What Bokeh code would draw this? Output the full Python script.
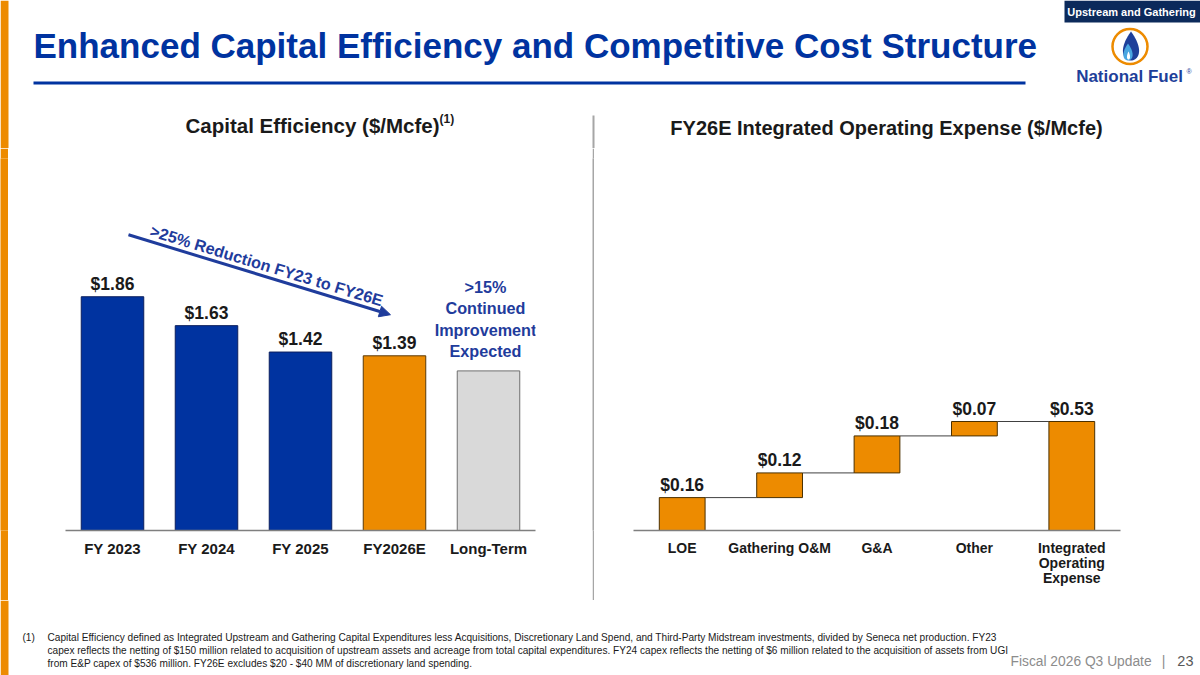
import math
from bokeh.plotting import figure
from bokeh.models import (Range1d, FactorRange, ColumnDataSource, Arrow, NormalHead, Label,
                          GlobalInlineStyleSheet)
from bokeh.layouts import column, row
from bokeh.embed import file_html
from bokeh.resources import INLINE
from bokeh.core.properties import value

FONT = "Liberation Sans"
BLUE = "#0033A0"
TXT_BLUE = "#1F3C9C"
ORANGE = "#ED8B00"
GRAY_BAR = "#D9D9D9"
DARK = "#1A1A1A"

# ---------------- data ----------------
ce_categories = ["FY 2023", "FY 2024", "FY 2025", "FY2026E", "Long-Term"]
ce_values = [1.86, 1.63, 1.42, 1.39, 1.27]
ce_labels = ["$1.86", "$1.63", "$1.42", "$1.39", ""]
ce_colors = [BLUE, BLUE, BLUE, ORANGE, GRAY_BAR]
ce_outline = ["#0B1F5E", "#0B1F5E", "#0B1F5E", "#5A3A08", "#6E6E6E"]

opex_categories = ["LOE", "Gathering O&M", "G&A", "Other", "Integrated\nOperating\nExpense"]
opex_values = [0.16, 0.12, 0.18, 0.07, 0.53]
opex_labels = ["$0.16", "$0.12", "$0.18", "$0.07", "$0.53"]

# waterfall bottoms / tops (last bar is the total)
opex_bottom, opex_top = [], []
run = 0.0
for i, v in enumerate(opex_values):
    if i == len(opex_values) - 1:
        opex_bottom.append(0.0)
        opex_top.append(v)
    else:
        opex_bottom.append(run)
        run += v
        opex_top.append(run)

W = 1200
HDR_H, CH_H, FTR_H = 148, 452, 75


def blank(width, height, **kw):
    f = figure(width=width, height=height, x_range=Range1d(0, width), y_range=Range1d(height, 0),
               x_axis_type=None, y_axis_type=None, toolbar_location=None,
               output_backend="svg", min_border=0, outline_line_color=None, **kw)
    f.xgrid.visible = False
    f.ygrid.visible = False
    return f


# ---------------- header ----------------
hdr = blank(W, HDR_H)
hdr.quad(left=[0], right=[8], top=[0], bottom=[HDR_H], fill_color=ORANGE, line_color=None)
hdr.text(x=[33], y=[45], text=["Enhanced Capital Efficiency and Competitive Cost Structure"],
         text_font=value(FONT), text_font_style="bold", text_font_size="35px",
         text_color=BLUE, text_align="left", text_baseline="middle")
hdr.segment(x0=[33], y0=[82.5], x1=[1025], y1=[82.5], line_color=BLUE, line_width=3)

# tag box
hdr.quad(left=[1064], right=[W], top=[0], bottom=[22], fill_color="#0C2A5B", line_color=None)
hdr.text(x=[1131], y=[11], text=["Upstream and Gathering"], text_font=value(FONT),
         text_font_style="bold", text_font_size="11px", text_color="white",
         text_align="center", text_baseline="middle")

# logo
cx, cy = 1129.5, 46
hdr.circle(x=[cx], y=[cy], radius=17.5, fill_color="white", line_color=ORANGE, line_width=2.5)


def teardrop(xc, ytip, w, h, n=60):
    xs, ys = [], []
    for k in range(n + 1):
        t = 2 * math.pi * k / n
        xs.append(xc + (w / 2) * math.sin(t) * math.sin(t / 2))
        ys.append(ytip + h * math.sin(t / 2) ** 2)
    return xs, ys


fx, fy = teardrop(cx + 1, 31, 21, 29)
hdr.patch(fx, fy, fill_color="#1E3F9A", line_color=None)
fx2, fy2 = teardrop(cx - 2, 43, 12, 17)
hdr.patch(fx2, fy2, fill_color="#49A6E0", line_color=None)
fx3, fy3 = teardrop(cx - 1.5, 51, 4, 8)
hdr.patch(fx3, fy3, fill_color="white", line_color=None)

hdr.text(x=[1129], y=[76], text=["National Fuel"], text_font=value(FONT),
         text_font_style="bold", text_font_size="17px", text_color="#1E3F9A",
         text_align="center", text_baseline="middle")
hdr.text(x=[1186], y=[71], text=["®"], text_font=value(FONT),
         text_font_size="7px", text_color="#1E3F9A", text_align="left", text_baseline="middle")

# chart subtitles
hdr.text(x=[185], y=[125], text=["Capital Efficiency ($/Mcfe)"], text_font=value(FONT),
         text_font_style="bold", text_font_size="20.5px", text_color=DARK,
         text_align="left", text_baseline="middle")
hdr.text(x=[439], y=[118], text=["(1)"], text_font=value(FONT),
         text_font_style="bold", text_font_size="12px", text_color=DARK,
         text_align="left", text_baseline="middle")
hdr.text(x=[886], y=[127], text=["FY26E Integrated Operating Expense ($/Mcfe)"], text_font=value(FONT),
         text_font_style="bold", text_font_size="20px", text_color=DARK,
         text_align="center", text_baseline="middle")
hdr.segment(x0=[593], y0=[115], x1=[593], y1=[HDR_H], line_color="#A6A6A6", line_width=2)

# ---------------- orange strip beside the charts ----------------
strip = figure(width=8, height=CH_H, x_axis_type=None, y_axis_type=None, toolbar_location=None,
               output_backend="svg", min_border=0, outline_line_color=None,
               background_fill_color=ORANGE, border_fill_color=ORANGE)
strip.xgrid.visible = False
strip.ygrid.visible = False


def style_axis(p, size):
    p.yaxis.visible = False
    p.xgrid.visible = False
    p.ygrid.visible = False
    p.xaxis.axis_line_color = "#7F7F7F"
    p.xaxis.axis_line_width = 1.5
    p.xaxis.major_tick_line_color = None
    p.xaxis.minor_tick_line_color = None
    p.xaxis.major_label_text_font = FONT
    p.xaxis.major_label_text_font_style = "bold"
    p.xaxis.major_label_text_font_size = size
    p.xaxis.major_label_text_color = DARK
    p.xaxis.major_label_text_line_height = 0.95
    p.xaxis.major_label_standoff = 3


# ---------------- left chart ----------------
p1 = figure(width=584, height=CH_H, x_range=FactorRange(*ce_categories), y_range=Range1d(0, 2.96),
            toolbar_location=None, output_backend="svg",
            min_border_left=57, min_border_right=57, min_border_top=10, min_border_bottom=70,
            outline_line_color=None)
src1 = ColumnDataSource(dict(x=ce_categories, top=ce_values, fill=ce_colors, line=ce_outline, label=ce_labels))
p1.vbar(x="x", top="top", width=0.665, source=src1, fill_color="fill", line_color="line", line_width=1)
p1.text(x="x", y="top", text="label", source=src1, text_font=value(FONT), text_font_style="bold",
        text_font_size="17.5px", text_color=DARK, text_align="center", text_baseline="alphabetic",
        y_offset=-13)

# reduction arrow & text
p1.add_layout(Arrow(x_start=0.67, y_start=2.353, x_end=3.457, y_end=1.717,
                    line_color=TXT_BLUE, line_width=3,
                    end=NormalHead(size=11, fill_color=TXT_BLUE, line_color=TXT_BLUE)))
p1.text(x=[2.14], y=[2.11], text=[">25% Reduction FY23 to FY26E"], angle=[-0.2964],
        text_font=value(FONT), text_font_style="bold", text_font_size="16.2px",
        text_color=TXT_BLUE, text_align="center", text_baseline="middle")
p1.add_layout(Label(x=4.468, y=1.683, text=">15%\nContinued\nImprovement\nExpected",
                    text_font=FONT, text_font_style="bold", text_font_size="16.2px",
                    text_color=TXT_BLUE, text_align="center", text_baseline="middle",
                    text_line_height=1.18))
style_axis(p1, "15px")

# ---------------- divider ----------------
div = figure(width=2, height=CH_H, x_axis_type=None, y_axis_type=None, toolbar_location=None,
             output_backend="svg", min_border=0, outline_line_color=None,
             background_fill_color="#A6A6A6", border_fill_color="#A6A6A6")
div.xgrid.visible = False
div.ygrid.visible = False

# ---------------- right chart (waterfall) ----------------
p2 = figure(width=606, height=CH_H, x_range=FactorRange(*opex_categories), y_range=Range1d(0, 1.809),
            toolbar_location=None, output_backend="svg",
            min_border_left=39, min_border_right=80, min_border_top=10, min_border_bottom=70,
            outline_line_color=None)
src2 = ColumnDataSource(dict(x=opex_categories, bottom=opex_bottom, top=opex_top, label=opex_labels))
BW = 0.47
cx0, cx1, cy_ = [], [], []
for i in range(len(opex_values) - 1):
    cx0.append(i + 0.5 + BW / 2)
    cx1.append(i + 1.5 - BW / 2)
    cy_.append(opex_top[i])
p2.segment(x0=cx0, y0=cy_, x1=cx1, y1=cy_, line_color="#404040", line_width=1)
p2.vbar(x="x", bottom="bottom", top="top", width=BW, source=src2, fill_color=ORANGE,
        line_color="#4A3000", line_width=1)
p2.text(x="x", y="top", text="label", source=src2, text_font=value(FONT), text_font_style="bold",
        text_font_size="17.5px", text_color=DARK, text_align="center", text_baseline="alphabetic",
        y_offset=-13)
style_axis(p2, "14px")

# ---------------- footer ----------------
ftr = blank(W, FTR_H)
ftr.quad(left=[0], right=[8], top=[0], bottom=[FTR_H], fill_color=ORANGE, line_color=None)
foot_lines = [
    "Capital Efficiency defined as Integrated Upstream and Gathering Capital Expenditures less Acquisitions, Discretionary Land Spend, and Third-Party Midstream investments, divided by Seneca net production.  FY23",
    "capex reflects the netting of $150 million related to acquisition of upstream assets and acreage from total capital expenditures. FY24 capex reflects the netting of $6 million related to the acquisition of assets from UGI",
    "from E&P capex of $536 million. FY26E excludes $20 - $40 MM of discretionary land spending.",
]
ftr.text(x=[22], y=[36.5], text=["(1)"], text_font=value(FONT), text_font_size="10.1px",
         text_color=DARK, text_align="left", text_baseline="middle")
ftr.text(x=[47, 47, 47], y=[36.5, 50, 63], text=foot_lines, text_font=value(FONT), text_font_size="10.1px",
         text_color=DARK, text_align="left", text_baseline="middle")
ftr.text(x=[1010], y=[61], text=["Fiscal 2026 Q3 Update"], text_font=value(FONT), text_font_size="13.8px",
         text_color="#8C8C8C", text_align="left", text_baseline="middle")
ftr.text(x=[1163], y=[60], text=["|"], text_font=value(FONT), text_font_size="14px",
         text_color="#8C8C8C", text_align="center", text_baseline="middle")
ftr.text(x=[1193], y=[60], text=["23"], text_font=value(FONT), text_font_size="14.5px",
         text_color="#595959", text_align="right", text_baseline="middle")

css = GlobalInlineStyleSheet(css="html, body { margin: 0 !important; padding: 0 !important; "
                                 "overflow: hidden !important; background: #ffffff; }")

layout = column(hdr, row(strip, p1, div, p2), ftr, stylesheets=[css])

with open("out.html", "w") as f:
    f.write(file_html(layout, INLINE))
